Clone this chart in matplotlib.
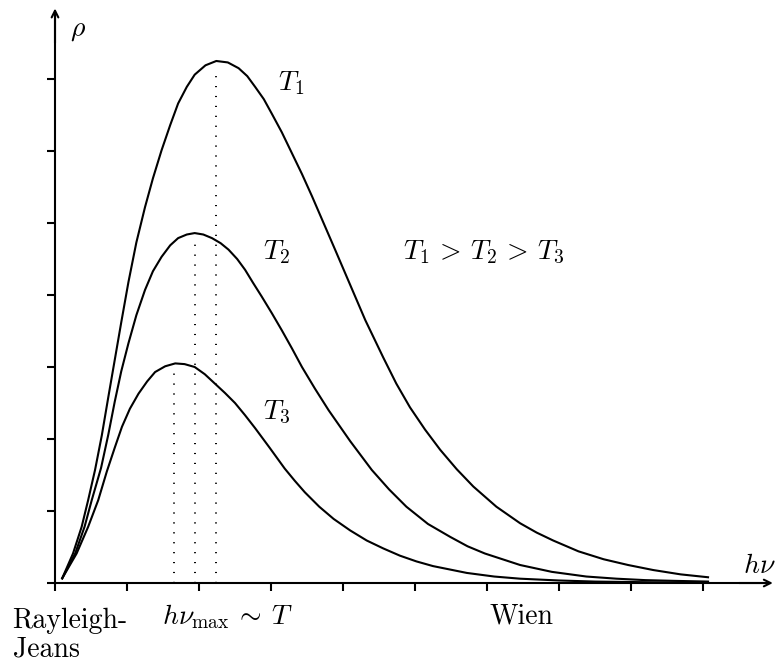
import matplotlib
matplotlib.use("Agg")
import matplotlib.pyplot as plt

plt.rcParams['mathtext.fontset'] = 'cm'

# values (1 unit = one tick spacing)
t1_x = [0.10, 0.25, 0.37, 0.46, 0.556, 0.65, 0.74, 0.83, 0.92, 1.02, 1.13, 1.25, 1.36, 1.48,
        1.60, 1.71, 1.83, 1.94, 2.09, 2.24, 2.40, 2.55, 2.67, 2.78, 2.90, 3.01, 3.15, 3.29,
        3.43, 3.57, 3.73, 3.89, 4.10, 4.31, 4.56, 4.74, 4.93, 5.14, 5.35, 5.58, 5.81, 6.13,
        6.46, 6.69, 6.92, 7.27, 7.62, 7.96, 8.31, 8.69, 9.07]
t1_y = [0.065, 0.41, 0.78, 1.15, 1.57, 2.05, 2.58, 3.10, 3.62, 4.18, 4.73, 5.22, 5.62, 6.01,
        6.36, 6.66, 6.89, 7.06, 7.19, 7.25, 7.23, 7.15, 7.04, 6.89, 6.72, 6.52, 6.26, 5.97,
        5.68, 5.37, 5.00, 4.63, 4.14, 3.65, 3.13, 2.77, 2.44, 2.13, 1.85, 1.58, 1.34, 1.06,
        0.83, 0.70, 0.59, 0.44, 0.33, 0.25, 0.18, 0.12, 0.08]

t2_x = [0.10, 0.28, 0.41, 0.51, 0.64, 0.74, 0.83, 0.92, 1.02, 1.13, 1.25, 1.36, 1.48, 1.60,
        1.71, 1.83, 1.94, 2.06, 2.18, 2.30, 2.41, 2.53, 2.64, 2.75, 2.87, 3.01, 3.15, 3.29,
        3.43, 3.61, 3.80, 4.10, 4.40, 4.64, 4.88, 5.18, 5.49, 5.73, 5.97, 6.46, 6.90, 7.38,
        7.80, 8.20, 8.60, 9.07]
t2_y = [0.065, 0.41, 0.78, 1.15, 1.60, 2.06, 2.52, 2.94, 3.33, 3.72, 4.07, 4.33, 4.53, 4.69,
        4.79, 4.84, 4.86, 4.84, 4.79, 4.72, 4.63, 4.50, 4.35, 4.17, 3.98, 3.75, 3.51, 3.26,
        3.00, 2.70, 2.40, 1.97, 1.57, 1.30, 1.06, 0.82, 0.64, 0.51, 0.41, 0.25, 0.155, 0.09,
        0.06, 0.04, 0.03, 0.02]

t3_x = [0.10, 0.30, 0.46, 0.60, 0.72, 0.83, 0.93, 1.04, 1.16, 1.28, 1.39, 1.53, 1.67, 1.80,
        1.94, 2.08, 2.22, 2.36, 2.50, 2.64, 2.78, 2.98, 3.19, 3.33, 3.47, 3.67, 3.87, 4.10,
        4.33, 4.56, 4.79, 5.02, 5.25, 5.72, 6.10, 6.46, 7.00, 7.50, 8.30, 9.07]
t3_y = [0.065, 0.41, 0.78, 1.15, 1.55, 1.88, 2.17, 2.42, 2.63, 2.80, 2.93, 3.01, 3.05, 3.04,
        3.00, 2.90, 2.77, 2.64, 2.50, 2.33, 2.15, 1.88, 1.59, 1.42, 1.26, 1.06, 0.89, 0.73,
        0.59, 0.48, 0.38, 0.30, 0.235, 0.14, 0.09, 0.06, 0.035, 0.02, 0.01, 0.005]

# peak positions (dotted lines) and their top ends
peak_x = [2.24, 1.94, 1.65]
peak_top = [7.10, 4.72, 2.92]

xticks = list(range(10))
yticks = list(range(8))

fig = plt.figure(figsize=(7.75, 6.62), dpi=100)
ax = fig.add_axes([0, 0, 1, 1])
ax.set_xlim(-0.764, 10.0)
ax.set_ylim(-1.097, 8.097)

lw = 1.5
for xs, ys in [(t1_x, t1_y), (t2_x, t2_y), (t3_x, t3_y)]:
    ax.plot(xs, ys, color='black', lw=lw, solid_joinstyle='round')

ax.vlines(peak_x, 0, peak_top, colors='black', lw=1.4, linestyles=[(0, (0.6, 4.5))])

# axes with arrows
for s in ['top', 'right']:
    ax.spines[s].set_visible(False)
ax.spines['left'].set_position(('data', 0))
ax.spines['bottom'].set_position(('data', 0))
ax.spines['left'].set_bounds(0, 7.9)
ax.spines['bottom'].set_bounds(0, 9.9)
ax.spines['left'].set_linewidth(lw)
ax.spines['bottom'].set_linewidth(lw)
ax.set_xticks(xticks)
ax.set_yticks(yticks)
ax.set_xticklabels([])
ax.set_yticklabels([])
ax.tick_params(direction='out', length=6, width=lw, color='black')
ax.annotate('', xy=(9.97, 0), xytext=(9.5, 0),
            arrowprops=dict(arrowstyle='->', lw=lw, color='black', mutation_scale=12,
                            shrinkA=0, shrinkB=0))
ax.annotate('', xy=(0, 7.98), xytext=(0, 7.5),
            arrowprops=dict(arrowstyle='->', lw=lw, color='black', mutation_scale=12,
                            shrinkA=0, shrinkB=0))

fs = 20
ax.text(0.21, 7.60, r'$\rho$', fontsize=fs, ha='left', va='baseline')
ax.text(9.56, 0.14, r'$h\nu$', fontsize=fs, ha='left', va='baseline')
ax.text(3.10, 6.85, r'$T_1$', fontsize=fs, ha='left', va='baseline')
ax.text(2.89, 4.49, r'$T_2$', fontsize=fs, ha='left', va='baseline')
ax.text(2.89, 2.27, r'$T_3$', fontsize=fs, ha='left', va='baseline')
ax.text(4.84, 4.49, r'$T_1 \,>\, T_2 \,>\, T_3$', fontsize=fs, ha='left', va='baseline')
ax.text(1.48, -0.58, r'$h\nu_{\mathrm{max}} \:\sim\: T$', fontsize=fs, ha='left', va='baseline')
ax.text(-0.59, -0.62, 'Rayleigh-', fontsize=fs, family='cmr10', ha='left', va='baseline')
ax.text(-0.59, -1.02, 'Jeans', fontsize=fs, family='cmr10', ha='left', va='baseline')
ax.text(6.04, -0.56, 'Wien', fontsize=fs, family='cmr10', ha='left', va='baseline')

fig.savefig('out.png', dpi=100)
